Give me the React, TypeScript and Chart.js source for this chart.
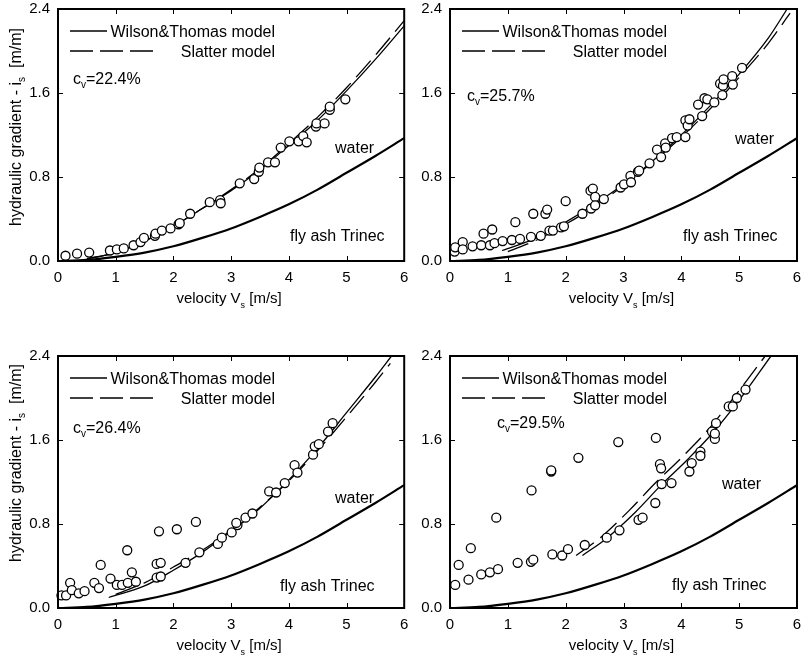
import React, { useEffect, useRef } from "react";
import { Chart, registerables } from "chart.js";
Chart.register(...registerables);

type Pt = [number, number];
type Part = { t: string; sub?: boolean };

const FONT = '"Liberation Sans", Arial, Helvetica, sans-serif';

const xTickValues = [0, 1, 2, 3, 4, 5, 6];
const yTickValues = [0, 0.8, 1.6, 2.4];

const legendLabels = ["Wilson&Thomas model", "Slatter model"];
const cvLabels = ["=22.4%", "=25.7%", "=26.4%", "=29.5%"];
const waterLabel = "water";
const materialLabel = "fly ash Trinec";

// water curve (same in every panel)
const waterCurve: Pt[] = [
  [0, 0], [0.5, 0.01], [1, 0.04], [1.5, 0.08], [2, 0.14], [2.5, 0.22], [3, 0.31],
  [3.5, 0.42], [4, 0.54], [4.5, 0.68], [5, 0.84], [5.5, 1.0], [6, 1.17],
];

// panel 1: cv = 22.4%
const p1Points: Pt[] = [
  [0.13, 0.05], [0.33, 0.07], [0.54, 0.08], [0.9, 0.1], [1.02, 0.11], [1.14, 0.12],
  [1.31, 0.15], [1.43, 0.18], [1.49, 0.22], [1.68, 0.24], [1.69, 0.26], [1.8, 0.29],
  [1.95, 0.31], [2.09, 0.35], [2.11, 0.36], [2.29, 0.45], [2.63, 0.56], [2.81, 0.58],
  [2.82, 0.55], [3.15, 0.74], [3.4, 0.78], [3.48, 0.85], [3.49, 0.89], [3.64, 0.94],
  [3.76, 0.94], [3.86, 1.08], [4.01, 1.14], [4.17, 1.14], [4.25, 1.19], [4.31, 1.13],
  [4.47, 1.28], [4.48, 1.31], [4.62, 1.31], [4.71, 1.44], [4.71, 1.47], [4.98, 1.54],
];
const p1WT: Pt[] = [
  [0.5, 0.02], [1, 0.08], [1.5, 0.19], [2, 0.33], [2.5, 0.5], [3, 0.67], [3.5, 0.87],
  [4, 1.1], [4.5, 1.34], [5, 1.62], [5.5, 1.92], [6, 2.24],
];
const p1SL: Pt[] = [
  [0.5, 0.02], [1, 0.08], [1.5, 0.19], [2, 0.33], [2.5, 0.5], [3, 0.68], [3.5, 0.88],
  [4, 1.12], [4.5, 1.37], [5, 1.65], [5.5, 1.96], [6, 2.29],
];

// panel 2: cv = 25.7%
const p2Points: Pt[] = [
  [0.08, 0.09], [0.09, 0.13], [0.22, 0.18], [0.22, 0.11], [0.39, 0.14], [0.54, 0.15],
  [0.58, 0.26], [0.69, 0.15], [0.73, 0.3], [0.77, 0.17], [0.91, 0.19], [1.07, 0.2],
  [1.13, 0.37], [1.21, 0.21], [1.4, 0.23], [1.44, 0.45], [1.57, 0.24], [1.65, 0.45],
  [1.68, 0.49], [1.72, 0.29], [1.78, 0.29], [1.92, 0.32], [1.97, 0.33], [2.0, 0.57],
  [2.29, 0.45], [2.44, 0.5], [2.43, 0.67], [2.47, 0.69], [2.51, 0.61], [2.51, 0.53],
  [2.66, 0.59], [2.95, 0.7], [3.01, 0.73], [3.12, 0.81], [3.13, 0.75], [3.25, 0.85],
  [3.27, 0.86], [3.45, 0.93], [3.58, 1.06], [3.65, 0.99], [3.72, 1.12], [3.73, 1.08],
  [3.84, 1.17], [3.92, 1.18], [4.07, 1.18], [4.07, 1.34], [4.11, 1.29], [4.14, 1.35],
  [4.29, 1.49], [4.36, 1.38], [4.4, 1.55], [4.45, 1.54], [4.57, 1.51], [4.67, 1.69],
  [4.71, 1.58], [4.72, 1.67], [4.73, 1.73], [4.88, 1.76], [4.89, 1.68], [5.05, 1.84],
];
const p2WT: Pt[] = [
  [0.9, 0.1], [1.5, 0.22], [2, 0.37], [2.5, 0.54], [3, 0.73], [3.5, 0.95], [4, 1.2],
  [4.5, 1.48], [5, 1.78], [5.5, 2.12], [5.83, 2.4],
];
const p2SL: Pt[] = [
  [1.0, 0.09], [1.5, 0.2], [2, 0.35], [2.5, 0.52], [3, 0.72], [3.5, 0.94], [4, 1.18],
  [4.5, 1.45], [5, 1.75], [5.5, 2.07], [5.88, 2.36],
];

// panel 3: cv = 26.4%
const p3Points: Pt[] = [
  [0.06, 0.12], [0.14, 0.12], [0.21, 0.24], [0.24, 0.17], [0.36, 0.14], [0.46, 0.16],
  [0.63, 0.24], [0.71, 0.19], [0.74, 0.41], [0.91, 0.28], [1.02, 0.22], [1.11, 0.22],
  [1.2, 0.55], [1.21, 0.24], [1.28, 0.34], [1.35, 0.25], [1.71, 0.42], [1.78, 0.43],
  [1.71, 0.29], [1.78, 0.3], [1.75, 0.73], [2.06, 0.75], [2.21, 0.43], [2.39, 0.82],
  [2.45, 0.53], [2.77, 0.61], [2.84, 0.67], [3.01, 0.72], [3.11, 0.79], [3.09, 0.81],
  [3.25, 0.86], [3.37, 0.9], [3.66, 1.11], [3.78, 1.1], [3.93, 1.19], [4.1, 1.36],
  [4.15, 1.29], [4.42, 1.46], [4.45, 1.54], [4.52, 1.56], [4.68, 1.68], [4.76, 1.76],
];
const p3WT: Pt[] = [
  [0.88, 0.1], [1.5, 0.21], [2, 0.36], [2.5, 0.53], [3, 0.73], [3.5, 0.95], [4, 1.22],
  [4.5, 1.52], [5, 1.86], [5.5, 2.2], [5.78, 2.4],
];
const p3SL: Pt[] = [
  [1.0, 0.13], [1.5, 0.24], [2, 0.39], [2.5, 0.55], [3, 0.74], [3.5, 0.96], [4, 1.21],
  [4.5, 1.5], [5, 1.82], [5.5, 2.15], [5.76, 2.33],
];

// panel 4: cv = 29.5%
const p4Points: Pt[] = [
  [0.09, 0.22], [0.15, 0.41], [0.32, 0.27], [0.36, 0.57], [0.54, 0.32], [0.69, 0.34],
  [0.8, 0.86], [0.83, 0.37], [1.17, 0.43], [1.41, 1.12], [1.4, 0.44], [1.44, 0.46],
  [1.75, 1.3], [1.75, 1.31], [1.77, 0.51], [1.94, 0.5], [2.04, 0.56], [2.22, 1.43],
  [2.33, 0.6], [2.71, 0.67], [2.91, 1.58], [2.93, 0.74], [3.26, 0.84], [3.33, 0.86],
  [3.55, 1.0], [3.56, 1.62], [3.63, 1.37], [3.65, 1.33], [3.66, 1.18], [3.83, 1.19],
  [4.14, 1.3], [4.18, 1.38], [4.33, 1.49], [4.33, 1.45], [4.53, 1.68], [4.58, 1.61],
  [4.58, 1.66], [4.6, 1.76], [4.82, 1.92], [4.89, 1.92], [4.96, 2.0], [5.11, 2.08],
];
const p4WT: Pt[] = [
  [2.29, 0.5], [2.7, 0.66], [3.2, 0.91], [3.65, 1.17], [4.1, 1.41], [4.53, 1.66],
  [5, 1.98], [5.55, 2.4],
];
const p4SL: Pt[] = [
  [2.18, 0.5], [2.6, 0.67], [3.1, 0.93], [3.55, 1.19], [4, 1.43], [4.45, 1.69],
  [4.9, 2.0], [5.45, 2.4],
];

type Panel = {
  left: number; top: number; w: number; h: number;
  padTop: number; padRight: number; yW: number; xH: number;
  pts: Pt[]; wt: Pt[]; sl: Pt[]; cv: string;
  cvPos: Pt; waterPos: Pt; ashPos: Pt; yTitleCy: number | null;
};

const panels: Panel[] = [
  { left: 0, top: 0, w: 410, h: 330, padTop: 9, padRight: 5, yW: 58, xH: 69,
    pts: p1Points, wt: p1WT, sl: p1SL, cv: cvLabels[0],
    cvPos: [15, 69], waterPos: [277, 138], ashPos: [232, 226], yTitleCy: 127 },
  { left: 410, top: 0, w: 393, h: 330, padTop: 9, padRight: 6, yW: 40, xH: 69,
    pts: p2Points, wt: p2WT, sl: p2SL, cv: cvLabels[1],
    cvPos: [17, 86], waterPos: [285, 129], ashPos: [233, 226], yTitleCy: null },
  { left: 0, top: 330, w: 410, h: 330, padTop: 26, padRight: 5, yW: 58, xH: 52,
    pts: p3Points, wt: p3WT, sl: p3SL, cv: cvLabels[2],
    cvPos: [15, 71], waterPos: [277, 141], ashPos: [222, 229], yTitleCy: 133 },
  { left: 410, top: 330, w: 393, h: 330, padTop: 26, padRight: 6, yW: 40, xH: 52,
    pts: p4Points, wt: p4WT, sl: p4SL, cv: cvLabels[3],
    cvPos: [47, 66], waterPos: [272, 127], ashPos: [222, 228], yTitleCy: null },
];

function drawRich(ctx: CanvasRenderingContext2D, parts: Part[], x: number, cy: number,
  align: "left" | "center" | "right", size: number) {
  const main = `${size}px ${FONT}`;
  const subF = `${Math.round(size * 0.62)}px ${FONT}`;
  let w = 0;
  for (const p of parts) { ctx.font = p.sub ? subF : main; w += ctx.measureText(p.t).width; }
  let cx = align === "left" ? x : align === "center" ? x - w / 2 : x - w;
  const base = cy + size * 0.36;
  ctx.textAlign = "left";
  ctx.textBaseline = "alphabetic";
  for (const p of parts) {
    ctx.font = p.sub ? subF : main;
    ctx.fillText(p.t, cx, p.sub ? base + size * 0.28 : base);
    cx += ctx.measureText(p.t).width;
  }
}

function toXY(a: Pt[]) { return a.map(([x, y]) => ({ x, y })); }

function makeDecor(p: Panel) {
  return {
    id: "decor",
    afterDraw(chart: any) {
      const ctx: CanvasRenderingContext2D = chart.ctx;
      const a = chart.chartArea;
      const xs = chart.scales.x, ys = chart.scales.y;
      ctx.save();
      ctx.strokeStyle = "#000";
      ctx.fillStyle = "#000";
      // tick marks (inward)
      ctx.lineWidth = 1;
      ctx.beginPath();
      for (const v of xTickValues) {
        const px = Math.round(xs.getPixelForValue(v)) + 0.5;
        ctx.moveTo(px, a.bottom); ctx.lineTo(px, a.bottom - 5);
        ctx.moveTo(px, a.top); ctx.lineTo(px, a.top + 5);
      }
      for (const v of yTickValues) {
        const py = Math.round(ys.getPixelForValue(v)) + 0.5;
        ctx.moveTo(a.left, py); ctx.lineTo(a.left + 5, py);
        ctx.moveTo(a.right, py); ctx.lineTo(a.right - 5, py);
      }
      ctx.stroke();
      // frame
      ctx.lineWidth = 2;
      ctx.strokeRect(a.left, a.top, a.right - a.left, a.bottom - a.top);
      // legend
      const L = a.left, T = a.top;
      ctx.lineWidth = 1.3;
      ctx.beginPath(); ctx.moveTo(L + 12, T + 22); ctx.lineTo(L + 49, T + 22); ctx.stroke();
      ctx.setLineDash([23, 7]);
      ctx.beginPath(); ctx.moveTo(L + 12, T + 42); ctx.lineTo(L + 96, T + 42); ctx.stroke();
      ctx.setLineDash([]);
      drawRich(ctx, [{ t: legendLabels[0] }], L + 217, T + 22, "right", 16);
      drawRich(ctx, [{ t: legendLabels[1] }], L + 217, T + 42, "right", 16);
      // annotations
      drawRich(ctx, [{ t: "c" }, { t: "v", sub: true }, { t: p.cv }], L + p.cvPos[0], T + p.cvPos[1], "left", 16);
      drawRich(ctx, [{ t: waterLabel }], L + p.waterPos[0], T + p.waterPos[1], "left", 16);
      drawRich(ctx, [{ t: materialLabel }], L + p.ashPos[0], T + p.ashPos[1], "left", 16);
      // axis titles
      drawRich(ctx, [{ t: "velocity V" }, { t: "s", sub: true }, { t: " [m/s]" }],
        (a.left + a.right) / 2 - 2, a.bottom + 37, "center", 15);
      if (p.yTitleCy !== null) {
        ctx.save();
        ctx.translate(15, p.yTitleCy);
        ctx.rotate(-Math.PI / 2);
        drawRich(ctx, [{ t: "hydraulic gradient - i" }, { t: "s", sub: true }, { t: "  [m/m]" }], 0, 0, "center", 16);
        ctx.restore();
      }
      ctx.restore();
    },
  };
}

function PanelChart({ p }: { p: Panel }) {
  const ref = useRef<HTMLCanvasElement | null>(null);
  useEffect(() => {
    if (!ref.current) return;
    const lineBase = { showLine: true, borderColor: "#000", pointRadius: 0, cubicInterpolationMode: "monotone" as const, fill: false };
    const chart = new Chart(ref.current, {
      type: "scatter",
      data: {
        datasets: [
          { label: "measured", data: toXY(p.pts), showLine: false, pointRadius: 4.5, pointBorderWidth: 1.3,
            pointBackgroundColor: "#fff", pointBorderColor: "#000", clip: false } as any,
          { label: "Wilson&Thomas model", data: toXY(p.wt), borderWidth: 1.3, ...lineBase } as any,
          { label: "Slatter model", data: toXY(p.sl), borderWidth: 1.3, borderDash: [22, 8], ...lineBase } as any,
          { label: "water", data: toXY(waterCurve), borderWidth: 2.2, ...lineBase } as any,
        ],
      },
      options: {
        responsive: false,
        animation: false,
        devicePixelRatio: 1,
        events: [],
        layout: { padding: { left: 0, top: p.padTop, right: p.padRight, bottom: 0 } },
        plugins: { legend: { display: false }, tooltip: { enabled: false } },
        scales: {
          x: {
            type: "linear", min: 0, max: 6,
            afterBuildTicks: (s: any) => { s.ticks = xTickValues.map((v) => ({ value: v })); },
            afterFit: (s: any) => { s.height = p.xH; s.paddingLeft = 0; s.paddingRight = 0; s.paddingTop = 0; s.paddingBottom = 0; },
            grid: { display: false, drawTicks: false },
            border: { display: false },
            ticks: { color: "#000", font: { family: FONT, size: 15 }, padding: 8, maxRotation: 0, autoSkip: false,
              callback: (v: any) => String(v) },
          },
          y: {
            type: "linear", min: 0, max: 2.4,
            afterBuildTicks: (s: any) => { s.ticks = yTickValues.map((v) => ({ value: v })); },
            afterFit: (s: any) => { s.width = p.yW; s.paddingLeft = 0; s.paddingRight = 0; s.paddingTop = 0; s.paddingBottom = 0; },
            grid: { display: false, drawTicks: false },
            border: { display: false },
            ticks: { color: "#000", font: { family: FONT, size: 15 }, padding: 8, autoSkip: false,
              callback: (v: any) => Number(v).toFixed(1) },
          },
        },
      } as any,
      plugins: [makeDecor(p)],
    });
    return () => chart.destroy();
  }, [p]);
  return (
    <canvas ref={ref} width={p.w} height={p.h}
      style={{ position: "absolute", left: p.left, top: p.top, width: p.w, height: p.h }} />
  );
}

export default function App() {
  return (
    <div style={{ position: "fixed", left: 0, top: 0, width: 803, height: 660, background: "#fff", overflow: "hidden" }}>
      {panels.map((p, i) => <PanelChart key={i} p={p} />)}
    </div>
  );
}
